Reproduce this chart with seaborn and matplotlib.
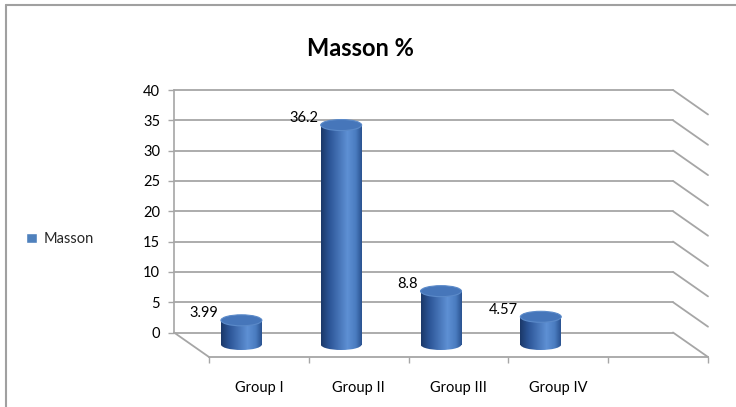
import numpy as np
import matplotlib
matplotlib.use("Agg")
import matplotlib.pyplot as plt
import seaborn as sns
from matplotlib.colors import LinearSegmentedColormap
from matplotlib.patches import Ellipse, Patch, ConnectionPatch
from matplotlib.lines import Line2D

# data
groups = ["Group I", "Group II", "Group III", "Group IV"]
values = [3.99, 36.2, 8.8, 4.57]
y_ticks = [0, 5, 10, 15, 20, 25, 30, 35, 40]
title = "Masson %"
series_name = "Masson"

sns.set_style("white")
plt.rcParams["font.family"] = ["Lato", "DejaVu Sans"]

W, H = 736, 407
fig = plt.figure(figsize=(W / 100, H / 100), dpi=100)


def box(l, t, r, b):
    return [l / W, 1 - b / H, (r - l) / W, (b - t) / H]


grid_col = "#A6A6A6"
n_slots = 5

# back wall, cylinders (middle depth), front floor edge
wall = fig.add_axes(box(174, 90, 673, 332.5))
bars = fig.add_axes(box(191.5, 102, 690.5, 344.5))
front = fig.add_axes(box(209, 114.5, 708, 357))
for a in (wall, bars, front):
    a.set_xlim(-0.5, n_slots - 0.5)
    a.set_ylim(0, 40)
    a.patch.set_alpha(0)
    for s in a.spines.values():
        s.set_visible(False)

wall.set_yticks(y_ticks)
wall.set_xticks([])
wall.grid(axis="y", color=grid_col, lw=1.3)
wall.spines["left"].set_visible(True)
wall.spines["left"].set_color(grid_col)
wall.spines["left"].set_linewidth(1.2)
wall.tick_params(axis="y", left=True, length=4, width=1, color=grid_col,
                 pad=6, labelsize=10.5, labelcolor="#000000")
for gl in wall.get_ygridlines():
    gl.set_clip_on(False)

# side lines on the right and floor line on the left
for y in y_ticks:
    fig.add_artist(ConnectionPatch(xyA=(n_slots - 0.5, y), coordsA=wall.transData,
                                   xyB=(n_slots - 0.5, y), coordsB=front.transData,
                                   color=grid_col, lw=1.3))
fig.add_artist(ConnectionPatch(xyA=(-0.5, 0), coordsA=wall.transData,
                               xyB=(-0.5, 0), coordsB=front.transData,
                               color=grid_col, lw=1.3))

# front floor edge with category ticks
front.spines["bottom"].set_visible(True)
front.spines["bottom"].set_color(grid_col)
front.spines["bottom"].set_linewidth(1.3)
front.set_yticks([])
front.set_xticks(np.arange(-0.5, n_slots, 1.0))
front.set_xticklabels([])
front.set_xticks(range(len(groups)), minor=True)
front.set_xticklabels(groups, minor=True)
front.tick_params(axis="x", which="major", bottom=True, length=4, width=1, color=grid_col)
front.tick_params(axis="x", which="minor", bottom=False, length=0, pad=17,
                  labelsize=10.5, labelcolor="#000000")

# cylinders
body_cmap = LinearSegmentedColormap.from_list(
    "cyl", [(0.0, "#1B3868"), (0.2, "#2B5496"), (0.65, "#5E90D4"),
            (0.85, "#4A7CC0"), (1.0, "#2A5290")])
sns.barplot(x=groups, y=values, ax=bars, color="#3F6DB0", saturation=1,
            width=0.41, edgecolor="none")
bars.set_xlabel("")
bars.set_ylabel("")
bars.set_xticks([])
bars.set_yticks([])

eh = 11 / 6.06  # ellipse height in data units
grad = np.linspace(0, 1, 256)[None, :]
for p, v in zip(list(bars.patches), values):
    x0, w = p.get_x(), p.get_width()
    cx = x0 + w / 2
    p.set_facecolor("none")
    bottom = Ellipse((cx, 0), w, eh, facecolor="none", edgecolor="none")
    bars.add_patch(bottom)
    im = bars.imshow(grad, cmap=body_cmap, extent=[x0, x0 + w, -eh, v],
                     aspect="auto", zorder=2)
    im.set_clip_path(bottom)
    im.set_clip_box(fig.bbox)
    im2 = bars.imshow(grad, cmap=body_cmap, extent=[x0, x0 + w, 0, v],
                      aspect="auto", zorder=2)
    im2.set_clip_path(p)
    top = Ellipse((cx, v), w, eh, facecolor="#4676BA", edgecolor="#5B8AC9",
                  lw=0.8, zorder=3)
    bars.add_patch(top)
    bars.annotate(str(v), xy=(x0, v), xytext=(-2, 5), textcoords="offset points",
                  ha="right", va="center", fontsize=10.5, color="#000000")
bars.set_xlim(-0.5, n_slots - 0.5)
bars.set_ylim(0, 40)

fig.text(0.49, 1 - 48 / H, title, ha="center", va="center", fontsize=17,
         fontweight="bold", color="#000000")

fig.legend(handles=[Patch(facecolor="#4F81BD", label=series_name)],
           loc="center left", bbox_to_anchor=(26 / W, 1 - 239 / H), frameon=False,
           borderaxespad=0, borderpad=0, handlelength=0.75, handleheight=0.75,
           handletextpad=0.45, fontsize=10.5)

# outer frame (left and top edges only visible)
fig.add_artist(Line2D([6 / W, 6 / W], [0, 1 - 5 / H], transform=fig.transFigure,
                      color="#A0A0A0", lw=1.5))
fig.add_artist(Line2D([6 / W, 1], [1 - 5 / H, 1 - 5 / H], transform=fig.transFigure,
                      color="#A0A0A0", lw=1.5))

fig.savefig("out.png", dpi=100, facecolor="white")
